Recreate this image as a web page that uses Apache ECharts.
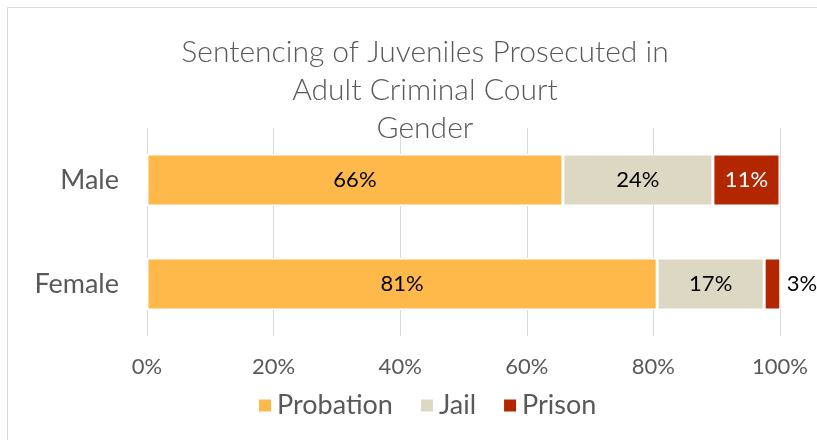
<!DOCTYPE html>
<html>
<head>
<meta charset="utf-8">
<script src="https://cdn.jsdelivr.net/npm/echarts@6/dist/echarts.min.js"></script>
<style>
  html, body { margin: 0; padding: 0; background: #fff; }
  #chart { width: 817px; height: 440px; }
</style>
</head>
<body>
<div id="chart"></div>
<script>
// data (shares in %, labels are rounded)
var genders = ['Female', 'Male'];
var probation = [80.6, 65.7];
var jail = [16.9, 23.7];
var prison = [2.7, 10.6];
var xTicks = [0, 20, 40, 60, 80, 100];

var font = 'Lato, "Open Sans", sans-serif';

var chart = echarts.init(document.getElementById('chart'));

function pct(p) {
  return Math.round(p.value) + '%';
}

var option = {
  animation: false,
  textStyle: { fontFamily: font },
  graphic: [{
    type: 'rect',
    shape: { x: 7.5, y: 7.5, width: 830, height: 450 },
    style: { fill: 'none', stroke: '#d9d9d9', lineWidth: 1 },
    silent: true
  }],
  title: {
    text: 'Sentencing of Juveniles Prosecuted in\nAdult Criminal Court\nGender',
    left: 420,
    textAlign: 'center',
    top: 28,
    textStyle: {
      fontFamily: font,
      fontWeight: 300,
      fontSize: 30,
      lineHeight: 38,
      color: '#595959'
    }
  },
  legend: {
    data: ['Probation', 'Jail', 'Prison'],
    left: 252,
    top: 387,
    itemWidth: 14,
    itemHeight: 14,
    itemGap: 26,
    icon: 'rect',
    textStyle: { fontFamily: font, fontSize: 27, color: '#595959' }
  },
  grid: { left: 147, right: 37, top: 128, bottom: 104 },
  xAxis: {
    type: 'value',
    min: 0,
    max: 100,
    interval: 20,
    axisLine: { show: false },
    axisTick: { show: false },
    splitLine: { lineStyle: { color: '#d9d9d9', width: 1 } },
    axisLabel: {
      margin: 20,
      fontSize: 22,
      color: '#595959',
      fontFamily: font,
      formatter: function (v) { return xTicks.indexOf(v) >= 0 ? v + '%' : ''; }
    }
  },
  yAxis: {
    type: 'category',
    data: genders,
    axisLine: { show: false },
    axisTick: { show: false },
    axisLabel: { fontSize: 27, color: '#595959', margin: 28, fontFamily: font }
  },
  series: [
    {
      name: 'Probation', type: 'bar', stack: 'all', barWidth: '50%',
      data: probation,
      itemStyle: { color: '#FFB94A', borderColor: '#fff', borderWidth: 1.5 },
      label: { show: true, position: 'inside', formatter: pct, fontSize: 22, color: '#000', fontFamily: font }
    },
    {
      name: 'Jail', type: 'bar', stack: 'all',
      data: jail,
      itemStyle: { color: '#DDD8C3', borderColor: '#fff', borderWidth: 1.5 },
      label: { show: true, position: 'inside', formatter: pct, fontSize: 22, color: '#000', fontFamily: font }
    },
    {
      name: 'Prison', type: 'bar', stack: 'all',
      data: prison.map(function (v, i) {
        return i === 0
          ? { value: v, label: { position: 'right', color: '#000', distance: 6 } }
          : v;
      }),
      itemStyle: { color: '#B32700', borderColor: '#fff', borderWidth: 1.5 },
      label: { show: true, position: 'inside', formatter: pct, fontSize: 22, color: '#fff', fontFamily: font }
    }
  ]
};

chart.setOption(option);
window.onresize = function () { chart.resize(); };
</script>
</body>
</html>
